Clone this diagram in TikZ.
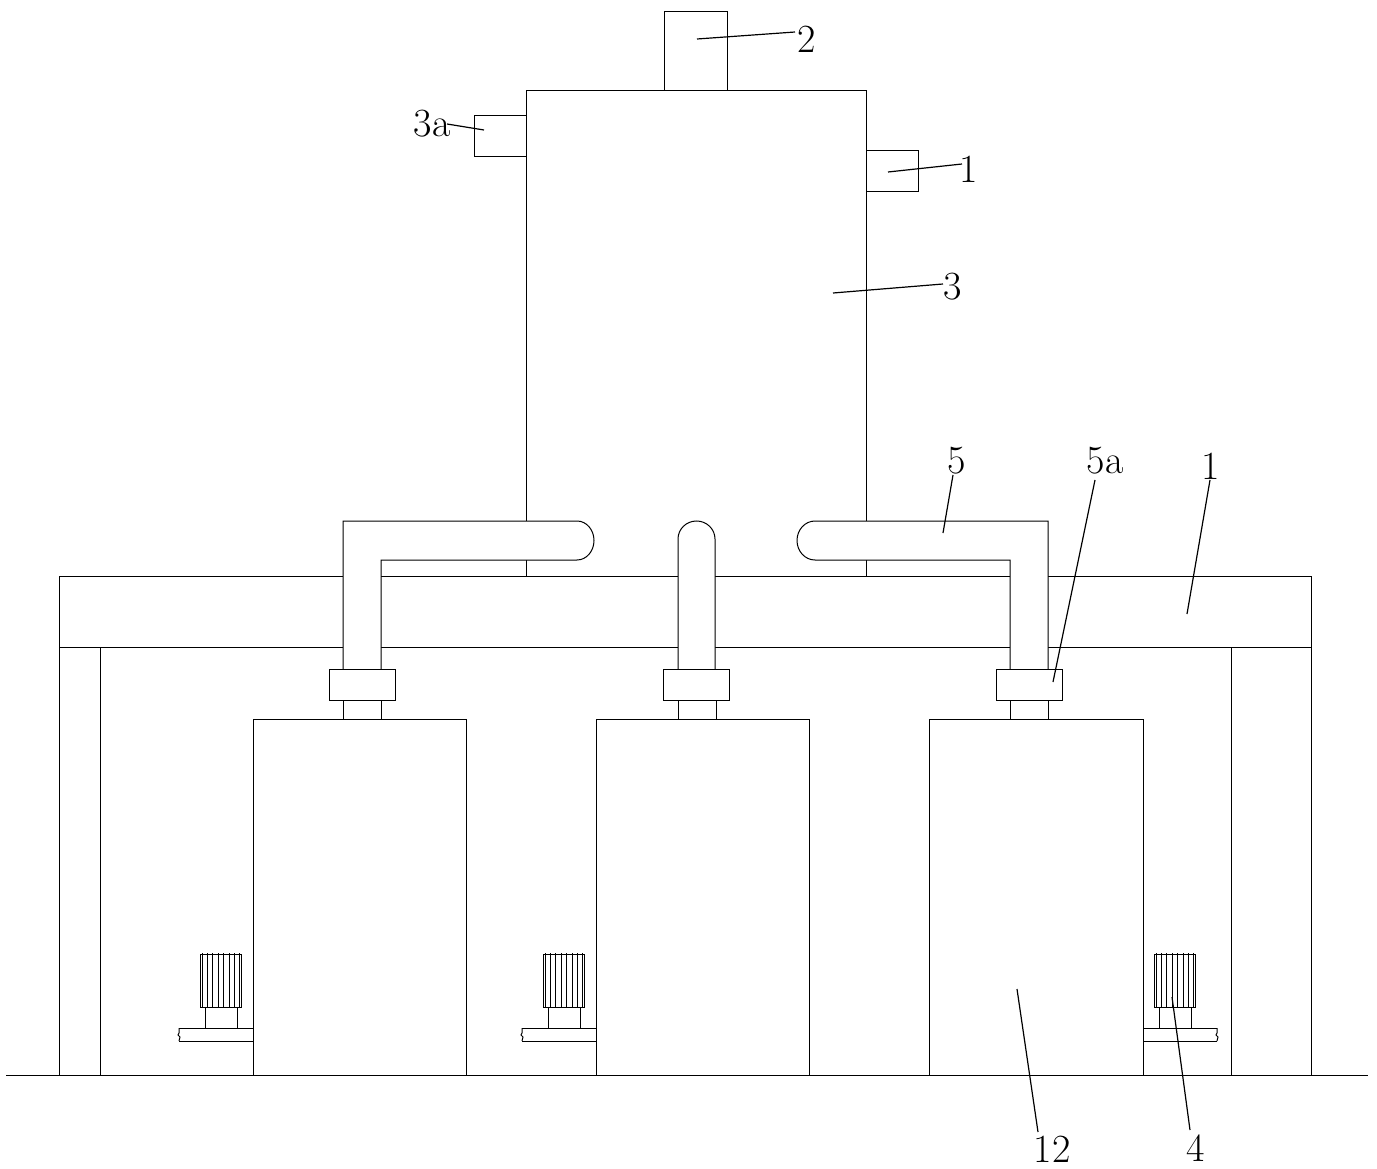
\documentclass[tikz,border=0pt]{standalone}
\begin{document}
\begin{tikzpicture}[x=1pt,y=-1pt,line width=1pt,
part/.style={draw,fill=white},
lead/.style={line width=1.2pt},
num/.style={inner sep=0pt,font=\fontsize{40}{40}\selectfont},
]
\useasboundingbox (0,0) rectangle (1377,1169);
% ground and frame
\draw (6,1075) -- (1368,1075);
\draw (59,647) -- (59,1075) (100,647) -- (100,1075);
\draw (1231,647) -- (1231,1075) (1311,647) -- (1311,1075);
% tower
\draw (526.6,576) -- (526.6,90.4) -- (866,90.4) -- (866,576);
\draw (664.6,90.4) -- (664.6,12) -- (727,12) -- (727,90.4);
\draw (526.6,115.4) -- (474.6,115.4) -- (474.6,156.4) -- (526.6,156.4);
\draw (866,150.4) -- (918,150.4) -- (918,191.4) -- (866,191.4);
\draw (59,576) rectangle (1311,647);
% tanks, feet and motors
\foreach \tx/\tr/\mx/\sx/\ex in {253/466/200/253/179,596/809/543/596/522,929/1143/1154/1143/1217}{
	\draw (\tx,1075) -- (\tx,719) -- (\tr,719) -- (\tr,1075);
	\draw (\sx,1028) -- (\ex,1028) (\sx,1041) -- (\ex,1041);
	\draw (\ex,1028) -- (\ex,1033) -- (\ex-1,1035) -- (\ex+1,1037) -- (\ex,1041);
	\draw (\mx+5,1007) -- (\mx+5,1028) (\mx+37,1007) -- (\mx+37,1028);
	\draw (\mx,954) rectangle (\mx+41.6,1007);
	\foreach \i in {2,7,12,18,23,29,34,39}{
		\draw (\mx+\i,953) -- (\mx+\i,1007);
	}
}
% pipes
\draw[part] (343,669) -- (343,521) -- (577,521) arc[start angle=-90,end angle=90,x radius=17,y radius=19.5] -- (381,560) -- (381,669);
\draw[part] (678,669) -- (678,539) arc[start angle=180,end angle=360,x radius=18.5,y radius=18] -- (715,669);
\draw[part] (1010,669) -- (1010,560) -- (815,560) arc[start angle=90,end angle=270,x radius=18,y radius=19.5] -- (1048,521) -- (1048,669);
\foreach \px/\cl/\cr in {343/329/395,678/663/729,1010/996/1062}{
	\draw (\px,700) -- (\px,719) (\px+38,700) -- (\px+38,719);
	\draw[part] (\cl,669) rectangle (\cr,700);
}
% labels
\node[num] (n2) at (807,39) {2};
\node[num] (n3a) at (432,124) {3a};
\node[num] (n1a) at (969,169) {1};
\node[num] (n3) at (953,287) {3};
\node[num] (n5) at (957,461) {5};
\node[num] (n5a) at (1105,461) {5a};
\node[num] (n1b) at (1211,466) {1};
\node[num] (n12) at (1052,1149) {12};
\node[num] (n4) at (1196,1148) {4};
\coordinate (c2) at (697,39);
\coordinate (c3a) at (484,130);
\coordinate (c1a) at (888,172);
\coordinate (c3) at (833,293);
\coordinate (c5) at (943,533);
\coordinate (c5a) at (1053,682);
\coordinate (c1b) at (1187,614);
\coordinate (c12) at (1017,989);
\coordinate (c4) at (1172,997);
\draw[lead] (c2) -- (795,32);
\draw[lead] (c3a) -- (447,124);
\draw[lead] (c1a) -- (962,164);
\draw[lead] (c3) -- (943,284);
\draw[lead] (c5) -- (953,475);
\draw[lead] (c5a) -- (1095,480);
\draw[lead] (c1b) -- (1210,480);
\draw[lead] (c12) -- (1038,1132);
\draw[lead] (c4) -- (1190,1130);
\end{tikzpicture}
\end{document}
